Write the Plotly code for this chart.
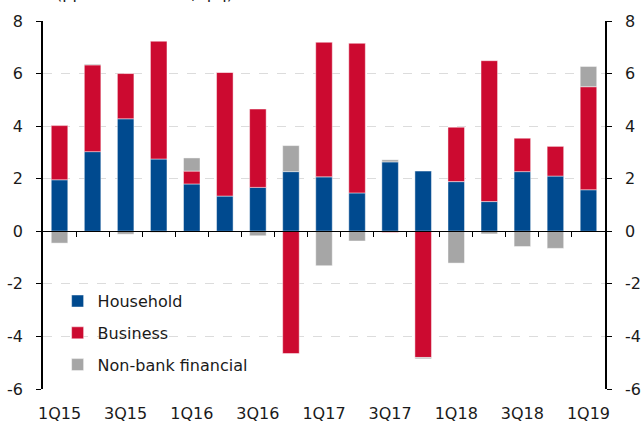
import plotly.graph_objects as go

quarters = ["1Q15", "2Q15", "3Q15", "4Q15", "1Q16", "2Q16", "3Q16", "4Q16",
            "1Q17", "2Q17", "3Q17", "4Q17", "1Q18", "2Q18", "3Q18", "4Q18", "1Q19"]
household = [1.96, 3.03, 4.28, 2.75, 1.80, 1.34, 1.67, 2.27,
             2.07, 1.46, 2.64, 2.29, 1.89, 1.13, 2.27, 2.10, 1.58]
business = [2.06, 3.30, 1.72, 4.48, 0.49, 4.71, 2.98, -4.65,
            5.12, 5.69, -0.04, -4.80, 2.07, 5.36, 1.27, 1.13, 3.92]
nonbank = [-0.45, 0.03, -0.11, -0.04, 0.50, 0.0, -0.17, 0.99,
           -1.31, -0.37, 0.08, -0.05, -1.21, -0.10, -0.58, -0.65, 0.77]
tick_labels = ["1Q15", "3Q15", "1Q16", "3Q16", "1Q17", "3Q17", "1Q18", "3Q18", "1Q19"]
y_ticks = [-6, -4, -2, 0, 2, 4, 6, 8]
y_tick_text = ["-6", "-4", "-2", "0", "2", "4", "6", "8"]

FONT = "DejaVu Sans, Liberation Sans, Arial, sans-serif"
TXT = "#1a1a1a"
n = len(quarters)

fig = go.Figure()
series = [("Household", household, "#004a8f"),
          ("Business", business, "#cc0a30"),
          ("Non-bank financial", nonbank, "#a6a6a6")]
for i, (name, vals, col) in enumerate(series):
    fig.add_trace(go.Bar(
        x=quarters, y=vals, name=name, width=0.5,
        marker=dict(color=col, line=dict(color="rgba(255,255,255,0.45)", width=1)),
        legendgroup=name,
    ))

# helper trace for the secondary axes (zero-line ticks and right axis)
fig.add_trace(go.Scatter(x=[0], y=[0], xaxis="x2", yaxis="y2", mode="markers",
                         marker=dict(opacity=0), showlegend=False, hoverinfo="skip"))

fig.update_layout(
    width=642, height=422,
    margin=dict(l=43, r=37, t=21, b=33, autoexpand=False),
    paper_bgcolor="white", plot_bgcolor="white",
    barmode="relative", bargap=0.5,
    font=dict(family=FONT, size=16, color=TXT),
    showlegend=True,
    legend=dict(x=0.026, y=0.285, xanchor="left", yanchor="top",
                bgcolor="rgba(0,0,0,0)", font=dict(size=16, color=TXT),
                traceorder="grouped", tracegroupgap=8),
    xaxis=dict(type="category", categoryorder="array", categoryarray=quarters,
               range=[-0.5, n - 0.5], tickmode="array", tickvals=tick_labels,
               ticktext=tick_labels, ticks="", showline=False, showgrid=False,
               zeroline=False, ticklabelstandoff=13, automargin=False,
               tickfont=dict(size=16, color=TXT)),
    xaxis2=dict(overlaying="x", anchor="free", position=6 / 14, range=[-0.5, n - 0.5],
                tickmode="array", tickvals=[i + 0.5 for i in range(n - 1)],
                showticklabels=False, ticks="outside", ticklen=5, tickwidth=1,
                tickcolor="black", showline=True, linecolor="black", linewidth=1,
                showgrid=False, zeroline=False, automargin=False),
    yaxis=dict(range=[-6, 8], tickmode="array", tickvals=y_ticks, ticktext=y_tick_text,
               ticks="outside", ticklen=5, tickcolor="black", tickwidth=1,
               showline=True, linecolor="black", linewidth=1.5,
               showgrid=True, gridcolor="#dcdcdc", griddash="dash", gridwidth=1,
               zeroline=False, ticklabelstandoff=10, automargin=False,
               tickfont=dict(size=16, color=TXT)),
    yaxis2=dict(overlaying="y", side="right", anchor="x2", range=[-6, 8],
                tickmode="array", tickvals=y_ticks, ticktext=y_tick_text,
                ticks="outside", ticklen=5, tickcolor="black", tickwidth=1,
                showline=True, linecolor="black", linewidth=1.5,
                showgrid=False, zeroline=False, ticklabelstandoff=10, automargin=False,
                tickfont=dict(size=16, color=TXT)),
)

fig.add_annotation(text="(ppt contribution, q/q)", xref="paper", yref="paper",
                   x=0.02, y=1, yshift=16, yanchor="bottom", xanchor="left",
                   showarrow=False, font=dict(size=16, color=TXT))

fig.write_html("out.html", config={"displayModeBar": False},
               post_script="document.body.style.margin='0';document.body.style.padding='0';")
